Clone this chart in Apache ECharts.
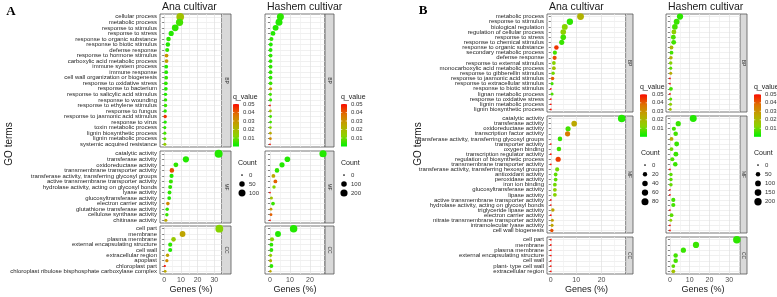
<!DOCTYPE html>
<html>
<head>
<meta charset="utf-8">
<script src="https://cdn.jsdelivr.net/npm/echarts@6/dist/echarts.min.js"></script>
<style>
  html, body { margin: 0; padding: 0; background: #fff; }
  #chart { width: 777px; height: 297px; }
</style>
</head>
<body>
<div id="chart"></div>
<script>
// GO term names, top to bottom
const termsA_BP = ['cellular process', 'metabolic process', 'response to stimulus', 'response to stress',
  'response to organic substance', 'response to biotic stimulus', 'defense response', 'response to hormone stimulus',
  'carboxylic acid metabolic process', 'immune system process', 'immune response', 'cell wall organization or biogenesis',
  'response to oxidative stress', 'response to bacterium', 'response to salicylic acid stimulus', 'response to wounding',
  'response to ethylene stimulus', 'response to fungus', 'response to jasmonic acid stimulus', 'response to virus',
  'toxin metabolic process', 'lignin biosynthetic process', 'lignin metabolic process', 'systemic acquired resistance'];
const termsA_MF = ['catalytic activity', 'transferase activity', 'oxidoreductase activity', 'transmembrane transporter activity',
  'transferase activity, transferring glycosyl groups', 'active transmembrane transporter activity',
  'hydrolase activity, acting on glycosyl bonds', 'lyase activity', 'glucosyltransferase activity', 'electron carrier activity',
  'glutathione transferase activity', 'cellulose synthase activity', 'chitinase activity'];
const termsA_CC = ['cell part', 'membrane', 'plasma membrane', 'external encapsulating structure', 'cell wall',
  'extracellular region', 'apoplast', 'chloroplast part', 'chloroplast ribulose bisphosphate carboxylase complex'];
const termsB_BP = ['metabolic process', 'response to stimulus', 'biological regulation', 'regulation of cellular process',
  'response to stress', 'response to chemical stimulus', 'response to organic substance', 'secondary metabolic process',
  'defense response', 'response to external stimulus', 'monocarboxylic acid metabolic process', 'response to gibberellin stimulus',
  'response to jasmonic acid stimulus', 'response to extracellular stimulus', 'response to biotic stimulus',
  'lignan metabolic process', 'response to oxidative stress', 'lignin metabolic process', 'lignin biosynthetic process'];
const termsB_MF = ['catalytic activity', 'transferase activity', 'oxidoreductase activity', 'transcription factor activity',
  'transferase activity, transferring glycosyl groups', 'transporter activity', 'oxygen binding', 'transcription regulator activity',
  'regulation of biosynthetic process', 'transmembrane transporter activity', 'transferase activity, transferring hexosyl groups',
  'antioxidant activity', 'peroxidase activity', 'iron ion binding', 'glucosyltransferase activity', 'lipase activity',
  'active transmembrane transporter activity', 'hydrolase activity, acting on glycosyl bonds', 'triglyceride lipase activity',
  'electron carrier activity', 'nitrate transmembrane transporter activity', 'intramolecular lyase activity', 'cell wall biogenesis'];
const termsB_CC = ['cell part', 'membrane', 'plasma membrane', 'external encapsulating structure', 'cell wall',
  'plant- type cell wall', 'extracellular region'];

// [genes %, q value, count] in the same order as the term names
const anaA_BP = [[9.6, 0.018, 129], [9.2, 0.006, 111], [6.6, 0.004, 88], [4.2, 0.003, 43], [2.6, 0.004, 29], [2.2, 0.003, 29],
  [1.8, 0.004, 21], [1.4, 0.030, 16], [1.4, 0.028, 16], [1.2, 0.003, 16], [1.2, 0.003, 16], [1.2, 0.004, 15], [1.0, 0.004, 15],
  [1.0, 0.003, 14], [0.8, 0.003, 11], [0.8, 0.004, 11], [0.8, 0.005, 11], [0.6, 0.004, 10], [0.6, 0.045, 10], [0.6, 0.003, 10],
  [0.4, 0.004, 7], [0.4, 0.006, 7], [0.4, 0.008, 7], [0.4, 0.014, 7]];
const anaA_MF = [[32.6, 0.003, 140], [13.0, 0.003, 73], [7.0, 0.004, 36], [4.6, 0.042, 29], [4.4, 0.003, 21], [4.0, 0.005, 21],
  [3.6, 0.004, 19], [3.2, 0.004, 17], [3.0, 0.003, 16], [2.2, 0.033, 13], [1.8, 0.004, 12], [1.6, 0.005, 11], [1.0, 0.025, 7]];
const anaA_CC = [[33.0, 0.012, 135], [11.0, 0.026, 60], [5.6, 0.015, 30], [3.6, 0.004, 21], [3.6, 0.003, 21], [2.0, 0.027, 11],
  [1.6, 0.032, 9], [0.4, 0.050, 1], [0.6, 0.025, 4]];
const hashA_BP = [[5.2, 0.004, 190], [4.5, 0.003, 186], [2.8, 0.003, 119], [1.5, 0.003, 67], [0.7, 0.004, 39], [0.4, 0.003, 30],
  [0.3, 0.003, 30], [0.3, 0.004, 30], [0.3, 0.004, 30], [0.3, 0.004, 28], [0.3, 0.004, 28], [0.3, 0.004, 27], [0.3, 0.005, 26],
  [0.3, 0.028, 13], [0.2, 0.006, 13], [0.3, 0.005, 13], [0.0, 0.050, 0], [0.2, 0.018, 8], [0.3, 0.006, 8], [0.3, 0.006, 8],
  [0.2, 0.012, 7], [0.2, 0.025, 7], [0.2, 0.032, 7], [0.0, 0.050, 0]];
const hashA_MF = [[26.5, 0.003, 200], [8.7, 0.003, 102], [6.0, 0.003, 81], [3.5, 0.004, 54], [1.7, 0.025, 30], [2.7, 0.040, 30],
  [2.0, 0.012, 21], [0.0, 0.050, 0], [0.7, 0.018, 13], [1.5, 0.005, 28], [0.5, 0.028, 8], [0.5, 0.040, 8], [0.0, 0.050, 0]];
const hashA_CC = [[11.8, 0.003, 225], [4.0, 0.003, 119], [1.0, 0.012, 39], [0.7, 0.004, 30], [0.7, 0.004, 30], [0.3, 0.014, 13],
  [0.3, 0.022, 13], [0.7, 0.004, 30], [0.2, 0.025, 4]];
const anaB_BP = [[11.7, 0.022, 75], [7.5, 0.004, 60], [5.5, 0.012, 50], [4.9, 0.013, 43], [4.9, 0.006, 43], [4.3, 0.005, 34],
  [2.2, 0.045, 23], [1.6, 0.006, 17], [1.5, 0.042, 17], [1.2, 0.012, 12], [1.2, 0.018, 12], [0.9, 0.010, 9], [0.7, 0.040, 9],
  [0.5, 0.006, 5], [0.0, 0.050, 0], [0.5, 0.007, 5], [0.0, 0.050, 0], [0.0, 0.050, 0], [0.0, 0.050, 0]];
const anaB_MF = [[27.9, 0.003, 95], [9.2, 0.025, 43], [6.8, 0.006, 34], [6.6, 0.036, 34], [3.6, 0.005, 23], [0.0, 0.050, 0],
  [3.2, 0.006, 23], [0.0, 0.050, 0], [2.9, 0.044, 34], [0.0, 0.050, 0], [2.5, 0.010, 17], [1.9, 0.008, 12], [1.9, 0.008, 12],
  [1.6, 0.010, 12], [1.6, 0.013, 12], [1.6, 0.012, 12], [0.0, 0.050, 0], [0.0, 0.050, 0], [0.8, 0.026, 9], [0.0, 0.050, 0],
  [0.6, 0.028, 5], [0.5, 0.026, 5], [0.4, 0.042, 8]];
const anaB_CC = [[0.0, 0.050, 0], [0.0, 0.050, 0], [0.0, 0.050, 0], [0.0, 0.050, 0], [0.0, 0.050, 0], [0.0, 0.050, 0], [0.0, 0.050, 0]];
const hashB_BP = [[5.1, 0.004, 128], [3.4, 0.005, 111], [2.5, 0.006, 95], [2.0, 0.013, 63], [1.7, 0.007, 63], [1.9, 0.006, 63],
  [0.8, 0.020, 28], [0.8, 0.006, 28], [0.5, 0.022, 20], [0.4, 0.012, 20], [0.4, 0.008, 12], [0.4, 0.024, 12], [0.0, 0.050, 0],
  [0.0, 0.050, 0], [0.5, 0.006, 28], [0.0, 0.050, 0], [0.4, 0.008, 12], [0.3, 0.013, 12], [0.2, 0.018, 7]];
const hashB_MF = [[11.8, 0.003, 173], [4.2, 0.005, 76], [2.0, 0.006, 37], [2.9, 0.006, 51], [0.8, 0.025, 28], [3.4, 0.005, 63],
  [0.8, 0.010, 28], [3.0, 0.005, 63], [1.2, 0.007, 37], [2.7, 0.005, 51], [0.0, 0.050, 0], [0.5, 0.008, 20], [0.5, 0.008, 20],
  [0.5, 0.009, 20], [0.0, 0.050, 0], [0.0, 0.050, 0], [1.7, 0.006, 37], [1.7, 0.006, 37], [0.0, 0.050, 0], [0.8, 0.008, 28],
  [0.4, 0.014, 12], [0.0, 0.050, 0], [0.0, 0.050, 0]];
const hashB_CC = [[33.9, 0.004, 210], [13.2, 0.005, 128], [6.8, 0.005, 76], [2.9, 0.006, 51], [2.9, 0.006, 51], [1.7, 0.008, 28],
  [1.7, 0.018, 28]];

// legend breaks
const facetNames = ['BP', 'MF', 'CC'];
const qTicks = [0.01, 0.02, 0.03, 0.04, 0.05];
const countA_Ana = [0, 50, 100];
const countA_Hash = [0, 100, 200];
const countB_Ana = [0, 20, 40, 60, 80];
const countB_Hash = [0, 50, 100, 150, 200];

const FONT = '"Liberation Sans", Arial, sans-serif';
const qColors = ['#00F000', '#8CD200', '#BBA800', '#DD7400', '#FA0A00'];

const topsA = [14, 151, 226], heightsA = [133, 72, 48];
const topsB = [14, 116, 237], heightsB = [98, 117, 37];

const panels = [
  { title: 'Ana cultivar', left: 160, width: 62, stripW: 9, xMin: -2.5, xMax: 34.6, cMax: 120, showTerms: true,
    tops: topsA, heights: heightsA, terms: [termsA_BP, termsA_MF, termsA_CC], values: [anaA_BP, anaA_MF, anaA_CC],
    qLeg: { x: 233, titleY: 97, top: 104, labelX: 243, w: 6 },
    cLeg: { x: 238, titleY: 163, dotX: 242, labelX: 249, y0: 175, step: 9, breaks: countA_Ana } },
  { title: 'Hashem cultivar', left: 265, width: 60, stripW: 9, xMin: -2.5, xMax: 27.5, cMax: 225, showTerms: false,
    tops: topsA, heights: heightsA, terms: [termsA_BP, termsA_MF, termsA_CC], values: [hashA_BP, hashA_MF, hashA_CC],
    qLeg: { x: 341, titleY: 97, top: 104, labelX: 351, w: 6 },
    cLeg: { x: 341, titleY: 163, dotX: 344, labelX: 351, y0: 175, step: 9, breaks: countA_Hash } },
  { title: 'Ana cultivar', left: 547, width: 79, stripW: 7, xMin: -1.5, xMax: 29.6, cMax: 95, showTerms: true,
    tops: topsB, heights: heightsB, terms: [termsB_BP, termsB_MF, termsB_CC], values: [anaB_BP, anaB_MF, anaB_CC],
    qLeg: { x: 640, titleY: 87, top: 94.3, labelX: 652, w: 7 },
    cLeg: { x: 641, titleY: 153, dotX: 645, labelX: 652, y0: 165, step: 9.2, breaks: countB_Ana } },
  { title: 'Hashem cultivar', left: 666, width: 74, stripW: 7, xMin: -2, xMax: 35.5, cMax: 210, showTerms: false,
    tops: topsB, heights: heightsB, terms: [termsB_BP, termsB_MF, termsB_CC], values: [hashB_BP, hashB_MF, hashB_CC],
    qLeg: { x: 754, titleY: 87, top: 94.3, labelX: 765, w: 7 },
    cLeg: { x: 754, titleY: 153, dotX: 758, labelX: 765, y0: 165, step: 9.2, breaks: countB_Hash } }
];

function dotSize(c, cMax) {
  return 1.7 + 5.8 * Math.sqrt(c / cMax);
}

// vertical grid lines: major at multiples of 10, minor at 5, nothing in between
function splitColors(min) {
  const out = [];
  for (let k = 0; k < 20; k++) {
    const v = Math.round((min + 0.5 * k) * 10) / 10;
    const m = ((v % 10) + 10) % 10;
    out.push(m === 0 ? '#E0E0E0' : (m === 5 ? '#EFEFEF' : 'rgba(0,0,0,0)'));
  }
  return out;
}

function txt(x, y, text, size, opts) {
  return Object.assign({
    type: 'text', x: x, y: y, silent: true,
    style: Object.assign({ text: text, fontSize: size, fontFamily: FONT, fill: '#1a1a1a',
      textAlign: 'left', textVerticalAlign: 'middle' }, (opts && opts.style) || {})
  }, (opts && opts.el) || {});
}

const grid = [], xAxis = [], yAxis = [], series = [], graphic = [];

panels.forEach(function (p) {
  p.tops.forEach(function (top, r) {
    const i = grid.length;
    const terms = p.terms[r];
    grid.push({ left: p.left, top: top, width: p.width, height: p.heights[r], show: true,
      backgroundColor: '#fff', borderColor: '#555', borderWidth: 0.8, containLabel: false, outerBoundsMode: 'none' });
    xAxis.push({
      type: 'value', gridIndex: i, min: p.xMin, max: p.xMax, interval: 0.5,
      axisLine: { show: false }, axisTick: { show: false },
      axisLabel: { show: r === 2, margin: 3, fontSize: 7, color: '#4d4d4d', fontFamily: FONT,
        formatter: function (v) { const m = Math.abs(v) % 10; return (m < 1e-6 || 10 - m < 1e-6) ? String(Math.round(v)) : ''; } },
      splitLine: { show: true, lineStyle: { color: splitColors(p.xMin), width: 0.7 } }
    });
    yAxis.push({
      type: 'category', gridIndex: i, data: terms, inverse: true,
      axisLine: { show: false },
      axisTick: { show: true, alignWithLabel: true, interval: 0, length: 2, lineStyle: { color: '#333', width: 0.6 } },
      axisLabel: { show: p.showTerms, interval: 0, margin: 3, fontSize: 6, color: '#1f1f1f', fontFamily: FONT },
      splitLine: { show: true, interval: 0, alignWithLabel: true, lineStyle: { color: '#E6E6E6', width: 0.6 } }
    });
    series.push({
      type: 'scatter', xAxisIndex: i, yAxisIndex: i, silent: true, z: 3,
      data: p.values[r].map(function (v, k) { return [v[0], k, v[1], v[2]]; }),
      symbolSize: function (v) { return dotSize(v[3], p.cMax); },
      itemStyle: { opacity: 1 }
    });
    // facet strip on the right
    graphic.push({ type: 'rect', silent: true, shape: { x: p.left + p.width, y: top, width: p.stripW, height: p.heights[r] },
      style: { fill: '#D9D9D9', stroke: '#555', lineWidth: 0.8 } });
    graphic.push(txt(p.left + p.width + p.stripW / 2, top + p.heights[r] / 2, facetNames[r], 5,
      { style: { textAlign: 'center', fill: '#333' }, el: { rotation: -Math.PI / 2 } }));
  });

  // column title and x title
  graphic.push(txt(p.left + 2, 7, p.title, 10.5));
  graphic.push(txt(p.left + p.width / 2, 289.5, 'Genes (%)', 9, { style: { textAlign: 'center' } }));

  // q_value colourbar
  const q = p.qLeg, barH = 42.5;
  graphic.push(txt(q.x, q.titleY, 'q_value', 7));
  graphic.push({ type: 'rect', silent: true, shape: { x: q.x, y: q.top, width: q.w, height: barH },
    style: { fill: new echarts.graphic.LinearGradient(0, 1, 0, 0,
      qColors.map(function (c, k) { return { offset: k / (qColors.length - 1), color: c }; })) } });
  qTicks.forEach(function (t) {
    const y = q.top + barH * (1 - t / 0.05);
    graphic.push({ type: 'line', silent: true, shape: { x1: q.x, y1: y, x2: q.x + 1.3, y2: y }, style: { stroke: '#fff', lineWidth: 0.6 } });
    graphic.push({ type: 'line', silent: true, shape: { x1: q.x + q.w - 1.3, y1: y, x2: q.x + q.w, y2: y }, style: { stroke: '#fff', lineWidth: 0.6 } });
    graphic.push(txt(q.labelX, y, t.toFixed(2), 6, { style: { fill: '#333' } }));
  });

  // Count legend
  const c = p.cLeg;
  graphic.push(txt(c.x, c.titleY, 'Count', 7));
  c.breaks.forEach(function (b, k) {
    const y = c.y0 + k * c.step;
    graphic.push({ type: 'circle', silent: true, shape: { cx: c.dotX, cy: y, r: dotSize(b, p.cMax) / 2 }, style: { fill: '#000' } });
    graphic.push(txt(c.labelX, y, String(b), 6, { style: { fill: '#333' } }));
  });
});

// panel letters and y titles
graphic.push(txt(11, 12, 'A', 13, { style: { textAlign: 'center', fontFamily: '"Liberation Serif", "Times New Roman", serif', fontWeight: 'bold', fill: '#000' } }));
graphic.push(txt(423, 11, 'B', 13, { style: { textAlign: 'center', fontFamily: '"Liberation Serif", "Times New Roman", serif', fontWeight: 'bold', fill: '#000' } }));
graphic.push(txt(9, 144, 'GO terms', 10, { style: { textAlign: 'center' }, el: { rotation: Math.PI / 2 } }));
graphic.push(txt(418.5, 144, 'GO terms', 10, { style: { textAlign: 'center' }, el: { rotation: Math.PI / 2 } }));

const chart = echarts.init(document.getElementById('chart'), null, { renderer: 'canvas' });
chart.setOption({
  animation: false,
  backgroundColor: '#fff',
  grid: grid,
  xAxis: xAxis,
  yAxis: yAxis,
  visualMap: {
    type: 'continuous', show: false, dimension: 2, min: 0, max: 0.05,
    seriesIndex: series.map(function (s, k) { return k; }),
    inRange: { color: qColors }
  },
  series: series,
  graphic: { elements: graphic }
});
</script>
</body>
</html>
